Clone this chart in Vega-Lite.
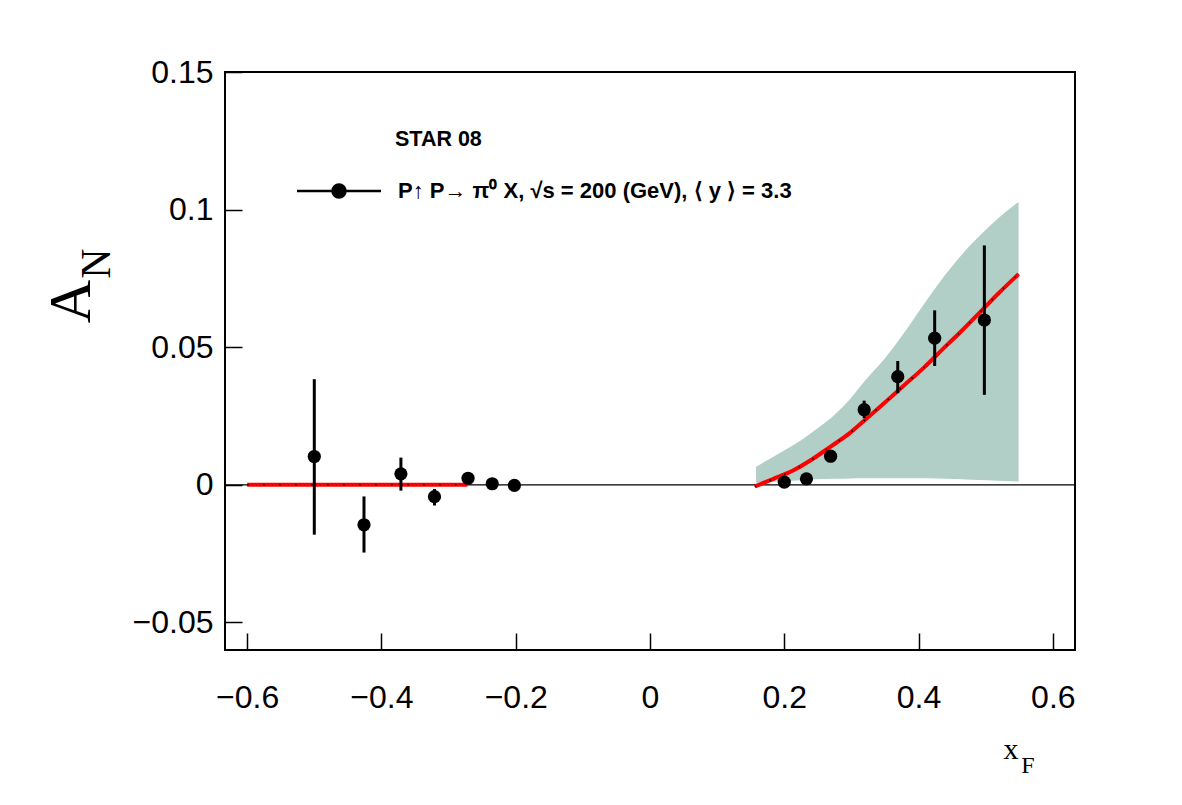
{
  "$schema": "https://vega.github.io/schema/vega-lite/v6.json",
  "width": 850,
  "height": 578,
  "autosize": {"type": "none"},
  "padding": {"left": 225, "top": 72, "right": 107, "bottom": 155},
  "background": "white",
  "config": {
    "view": {"stroke": "black", "strokeWidth": 2, "fill": "white"},
    "axis": {"grid": false, "domain": false}
  },
  "datasets": {
    "band": [
      {"x": 0.158, "lo": 0.0008, "hi": 0.0066},
      {"x": 0.180, "lo": 0.0011, "hi": 0.0097},
      {"x": 0.199, "lo": 0.0014, "hi": 0.0124},
      {"x": 0.225, "lo": 0.0017, "hi": 0.0162},
      {"x": 0.248, "lo": 0.0020, "hi": 0.0203},
      {"x": 0.275, "lo": 0.0022, "hi": 0.0255},
      {"x": 0.298, "lo": 0.0023, "hi": 0.0312},
      {"x": 0.318, "lo": 0.0024, "hi": 0.0372},
      {"x": 0.349, "lo": 0.0024, "hi": 0.0457},
      {"x": 0.375, "lo": 0.0024, "hi": 0.0541},
      {"x": 0.401, "lo": 0.0024, "hi": 0.0632},
      {"x": 0.427, "lo": 0.0023, "hi": 0.0722},
      {"x": 0.453, "lo": 0.0021, "hi": 0.0803},
      {"x": 0.478, "lo": 0.0019, "hi": 0.0873},
      {"x": 0.504, "lo": 0.0017, "hi": 0.0936},
      {"x": 0.530, "lo": 0.0014, "hi": 0.0992},
      {"x": 0.549, "lo": 0.0012, "hi": 0.1028}
    ],
    "curve": [
      {"seg": "left", "x": -0.600, "y": 0.0},
      {"seg": "left", "x": -0.272, "y": 0.0},
      {"seg": "right", "x": 0.156, "y": -0.0006},
      {"seg": "right", "x": 0.184, "y": 0.0022},
      {"seg": "right", "x": 0.213, "y": 0.0052},
      {"seg": "right", "x": 0.241, "y": 0.0092},
      {"seg": "right", "x": 0.269, "y": 0.0139},
      {"seg": "right", "x": 0.297, "y": 0.0187},
      {"seg": "right", "x": 0.324, "y": 0.0244},
      {"seg": "right", "x": 0.352, "y": 0.0304},
      {"seg": "right", "x": 0.381, "y": 0.0367},
      {"seg": "right", "x": 0.408, "y": 0.0426},
      {"seg": "right", "x": 0.436, "y": 0.0493},
      {"seg": "right", "x": 0.464, "y": 0.0559},
      {"seg": "right", "x": 0.491, "y": 0.0626},
      {"seg": "right", "x": 0.520, "y": 0.0698},
      {"seg": "right", "x": 0.549, "y": 0.0766}
    ],
    "points": [
      {"series": "P↑ P→  π⁰ X,  √s = 200 (GeV), ⟨ y  ⟩ = 3.3", "x": -0.500, "y": 0.0103, "ylo": -0.0181, "yhi": 0.0384},
      {"series": "P↑ P→  π⁰ X,  √s = 200 (GeV), ⟨ y  ⟩ = 3.3", "x": -0.426, "y": -0.0145, "ylo": -0.0246, "yhi": -0.0042},
      {"series": "P↑ P→  π⁰ X,  √s = 200 (GeV), ⟨ y  ⟩ = 3.3", "x": -0.371, "y": 0.0040, "ylo": -0.0021, "yhi": 0.0099},
      {"series": "P↑ P→  π⁰ X,  √s = 200 (GeV), ⟨ y  ⟩ = 3.3", "x": -0.321, "y": -0.0043, "ylo": -0.0075, "yhi": -0.0015},
      {"series": "P↑ P→  π⁰ X,  √s = 200 (GeV), ⟨ y  ⟩ = 3.3", "x": -0.271, "y": 0.0024, "ylo": 0.0014, "yhi": 0.0034},
      {"series": "P↑ P→  π⁰ X,  √s = 200 (GeV), ⟨ y  ⟩ = 3.3", "x": -0.235, "y": 0.0004, "ylo": -0.0002, "yhi": 0.0010},
      {"series": "P↑ P→  π⁰ X,  √s = 200 (GeV), ⟨ y  ⟩ = 3.3", "x": -0.202, "y": -0.0002, "ylo": -0.0007, "yhi": 0.0003},
      {"series": "P↑ P→  π⁰ X,  √s = 200 (GeV), ⟨ y  ⟩ = 3.3", "x": 0.200, "y": 0.0010, "ylo": 0.0005, "yhi": 0.0015},
      {"series": "P↑ P→  π⁰ X,  √s = 200 (GeV), ⟨ y  ⟩ = 3.3", "x": 0.233, "y": 0.0022, "ylo": 0.0016, "yhi": 0.0028},
      {"series": "P↑ P→  π⁰ X,  √s = 200 (GeV), ⟨ y  ⟩ = 3.3", "x": 0.269, "y": 0.0104, "ylo": 0.0096, "yhi": 0.0112},
      {"series": "P↑ P→  π⁰ X,  √s = 200 (GeV), ⟨ y  ⟩ = 3.3", "x": 0.319, "y": 0.0273, "ylo": 0.0242, "yhi": 0.0306},
      {"series": "P↑ P→  π⁰ X,  √s = 200 (GeV), ⟨ y  ⟩ = 3.3", "x": 0.369, "y": 0.0393, "ylo": 0.0333, "yhi": 0.0450},
      {"series": "P↑ P→  π⁰ X,  √s = 200 (GeV), ⟨ y  ⟩ = 3.3", "x": 0.424, "y": 0.0533, "ylo": 0.0432, "yhi": 0.0634},
      {"series": "P↑ P→  π⁰ X,  √s = 200 (GeV), ⟨ y  ⟩ = 3.3", "x": 0.498, "y": 0.0599, "ylo": 0.0327, "yhi": 0.0870}
    ]
  },
  "layer": [
    {
      "data": {"name": "band"},
      "mark": {"type": "area", "color": "#b1cfc7", "opacity": 1, "interpolate": "monotone"},
      "encoding": {
        "x": {
          "field": "x", "type": "quantitative",
          "scale": {"domain": [-0.633, 0.633], "nice": false, "zero": false},
          "axis": {
            "values": [-0.6, -0.4, -0.2, 0, 0.2, 0.4, 0.6],
            "format": "~g",
            "tickSize": -17, "tickWidth": 1.5, "tickColor": "black",
            "labelFont": "Liberation Sans", "labelFontSize": 32, "labelColor": "black",
            "labelPadding": 49, "labelFlush": false, "labelOverlap": false,
            "title": "x",
            "titleFont": "Liberation Serif", "titleFontSize": 30, "titleFontWeight": "normal", "titleColor": "black",
            "titleX": 785.5, "titleY": 108, "titleAlign": "center", "titleBaseline": "alphabetic"
          }
        },
        "y": {
          "field": "hi", "type": "quantitative",
          "scale": {"domain": [-0.06, 0.15], "nice": false, "zero": false},
          "axis": {
            "values": [-0.05, 0, 0.05, 0.1, 0.15],
            "format": "~g",
            "tickSize": -17, "tickWidth": 1.5, "tickColor": "black",
            "labelFont": "Liberation Sans", "labelFontSize": 32, "labelColor": "black",
            "labelPadding": 29, "labelFlush": false, "labelOverlap": false,
            "title": "A",
            "titleFont": "Liberation Serif", "titleFontSize": 60, "titleFontWeight": "normal", "titleColor": "black",
            "titleAngle": 270,
            "titleX": -136, "titleY": 229, "titleAlign": "center", "titleBaseline": "alphabetic"
          }
        },
        "y2": {"field": "lo"}
      }
    },
    {
      "data": {"values": [{"y": 0}]},
      "mark": {"type": "rule", "color": "black", "strokeWidth": 1.2},
      "encoding": {
        "y": {"field": "y", "type": "quantitative", "scale": {"domain": [-0.06, 0.15], "nice": false, "zero": false}}
      }
    },
    {
      "data": {"name": "curve"},
      "mark": {"type": "line", "color": "#ff0000", "strokeWidth": 4, "interpolate": "monotone"},
      "encoding": {
        "x": {"field": "x", "type": "quantitative", "scale": {"domain": [-0.633, 0.633], "nice": false, "zero": false}},
        "y": {"field": "y", "type": "quantitative", "scale": {"domain": [-0.06, 0.15], "nice": false, "zero": false}},
        "detail": {"field": "seg"}
      }
    },
    {
      "data": {"name": "curve"},
      "mark": {"type": "line", "color": "black", "strokeWidth": 1.5, "strokeDash": [1.5, 14.5], "interpolate": "monotone"},
      "encoding": {
        "x": {"field": "x", "type": "quantitative", "scale": {"domain": [-0.633, 0.633], "nice": false, "zero": false}},
        "y": {"field": "y", "type": "quantitative", "scale": {"domain": [-0.06, 0.15], "nice": false, "zero": false}},
        "detail": {"field": "seg"}
      }
    },
    {
      "data": {"name": "points"},
      "mark": {"type": "rule", "color": "black", "strokeWidth": 3},
      "encoding": {
        "x": {"field": "x", "type": "quantitative", "scale": {"domain": [-0.633, 0.633], "nice": false, "zero": false}},
        "y": {"field": "ylo", "type": "quantitative", "scale": {"domain": [-0.06, 0.15], "nice": false, "zero": false}},
        "y2": {"field": "yhi"}
      }
    },
    {
      "data": {"name": "points"},
      "mark": {"type": "circle", "size": 175, "opacity": 1},
      "encoding": {
        "x": {"field": "x", "type": "quantitative", "scale": {"domain": [-0.633, 0.633], "nice": false, "zero": false}},
        "y": {"field": "y", "type": "quantitative", "scale": {"domain": [-0.06, 0.15], "nice": false, "zero": false}},
        "color": {
          "field": "series", "type": "nominal",
          "scale": {"range": ["black"]},
          "legend": {
            "orient": "none", "legendX": 170, "legendY": 56.5, "padding": 0,
            "title": "STAR 08",
            "titleFont": "Liberation Sans", "titleFontSize": 21.5, "titleFontWeight": "bold", "titleColor": "black",
            "titlePadding": 30,
            "labelFont": "Liberation Sans", "labelFontSize": 22, "labelFontWeight": "bold", "labelColor": "black",
            "labelLimit": 1000, "labelOffset": -19,
            "symbolType": "M-109,0H-25M-73.5,0A6.5,6.5,0,1,0,-60.5,0A6.5,6.5,0,1,0,-73.5,0Z",
            "symbolSize": 4, "symbolStrokeWidth": 2.5, "symbolStrokeColor": "black", "symbolFillColor": "black",
            "encode": {
              "symbols": {"update": {"stroke": {"value": "black"}, "strokeWidth": {"value": 2.5}, "fill": {"value": "black"}, "opacity": {"value": 1}}},
              "labels": {"update": {"dy": {"value": 7}}}
            }
          }
        }
      }
    },
    {
      "data": {"values": [{"sub": "N"}]},
      "mark": {"type": "text", "font": "Liberation Serif", "fontSize": 42, "angle": 270, "align": "center", "baseline": "alphabetic", "color": "black"},
      "encoding": {
        "text": {"field": "sub", "type": "nominal"},
        "x": {"datum": -0.804, "type": "quantitative", "scale": {"domain": [-0.633, 0.633], "nice": false, "zero": false}},
        "y": {"datum": 0.0804, "type": "quantitative", "scale": {"domain": [-0.06, 0.15], "nice": false, "zero": false}}
      }
    },
    {
      "data": {"values": [{"sub": "F"}]},
      "mark": {"type": "text", "font": "Liberation Serif", "fontSize": 24, "align": "center", "baseline": "alphabetic", "color": "black"},
      "encoding": {
        "text": {"field": "sub", "type": "nominal"},
        "x": {"datum": 0.563, "type": "quantitative", "scale": {"domain": [-0.633, 0.633], "nice": false, "zero": false}},
        "y": {"datum": -0.1047, "type": "quantitative", "scale": {"domain": [-0.06, 0.15], "nice": false, "zero": false}}
      }
    }
  ]
}
